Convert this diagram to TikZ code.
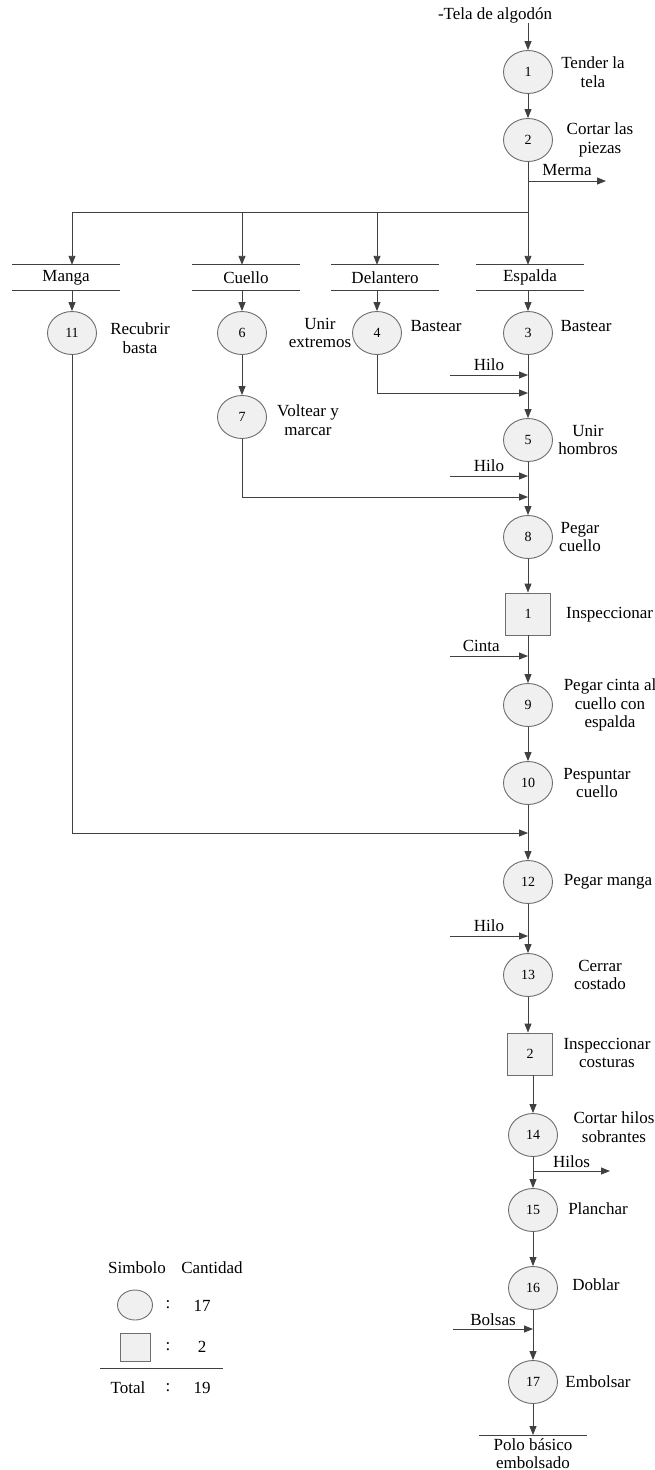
\documentclass[tikz,border=0pt]{standalone}
\usepackage{fontspec}
\setmainfont{Liberation Serif}
\usetikzlibrary{arrows.meta,shapes.geometric}
\definecolor{ln}{HTML}{404040}
\definecolor{bd}{HTML}{6E6E6E}
\definecolor{fl}{HTML}{F0F0F0}
\tikzset{
  proc/.style={ellipse,draw=bd,fill=fl,line width=0.9pt,minimum width=49pt,minimum height=43pt,inner sep=0pt,font=\fontsize{14}{16}\selectfont},
  insp/.style={rectangle,draw=bd,fill=fl,line width=0.9pt,minimum width=45pt,minimum height=42pt,inner sep=0pt,font=\fontsize{14}{16}\selectfont},
  lbl/.style={align=center,inner sep=0pt,font=\fontsize{17}{18.5}\selectfont},
  store/.style={minimum width=107pt,minimum height=25pt,inner sep=0pt,font=\fontsize{17}{18.5}\selectfont},
  arr/.style={draw=ln,line width=0.9pt,-{Triangle[length=9pt,width=7pt]}},
  ln/.style={draw=ln,line width=0.9pt},
}
\begin{document}
\begin{tikzpicture}[x=1pt,y=-1pt]
\useasboundingbox (0,0) rectangle (654,1470);
% top input
\node[lbl] (t) at (495,15) {-Tela de algodón};
% main column
\node[proc] (c1) at (528,72) {1};
\node[proc] (c2) at (528,140) {2};
\node[store] (manga) at (66,277.5) {Manga};
\node[store] (cuello) at (246,277.5) {Cuello};
\node[store] (delantero) at (385,277.5) {Delantero};
\node[store] (espalda) at (530,277.5) {Espalda};
\foreach \s in {manga,cuello,delantero,espalda}{
  \draw[ln] (\s.north west) -- (\s.north east);
  \draw[ln] (\s.south west) -- (\s.south east);
}
\node[proc] (c11) at (72,333) {11};
\node[proc] (c6) at (242,333) {6};
\node[proc] (c4) at (377,333) {4};
\node[proc] (c3) at (528,333) {3};
\node[proc] (c7) at (242,417) {7};
\node[proc] (c5) at (528,440) {5};
\node[proc] (c8) at (528,537) {8};
\node[insp] (i1) at (528,614) {1};
\node[proc] (c9) at (528,705) {9};
\node[proc] (c10) at (528,783) {10};
\node[proc] (c12) at (528,882) {12};
\node[proc] (c13) at (528,975) {13};
\node[insp] (i2) at (530,1054) {2};
\node[proc] (c14) at (533,1135) {14};
\node[proc] (c15) at (533,1210) {15};
\node[proc] (c16) at (533,1288) {16};
\node[proc] (c17) at (533,1382) {17};
\node[store,lbl,anchor=north,minimum width=107pt,inner sep=3pt] (polo) at (533,1435) {Polo básico\\embolsado};
\draw[ln] (polo.north west) -- (polo.north east);
% labels
\node[lbl] (l1) at (593,72) {Tender la\\tela};
\node[lbl] (l2) at (600,140) {Cortar las\\piezas};
\node[lbl] (l11) at (140,338) {Recubrir\\basta};
\node[lbl] (l6) at (320,333) {Unir\\extremos};
\node[lbl] (l4) at (436,326) {Bastear};
\node[lbl] (l3) at (586,326) {Bastear};
\node[lbl] (l7) at (308,420) {Voltear y\\marcar};
\node[lbl] (l5) at (588,440) {Unir\\hombros};
\node[lbl] (l8) at (580,537) {Pegar\\cuello};
\node[lbl,anchor=west] (li1) at (566,615) {Inspeccionar};
\node[lbl] (l9) at (610,705) {Pegar cinta al\\cuello con\\espalda};
\node[lbl] (l10) at (597,783) {Pespuntar\\cuello};
\node[lbl] (l12) at (608,882) {Pegar manga};
\node[lbl] (l13) at (600,975) {Cerrar\\costado};
\node[lbl] (li2) at (607,1053) {Inspeccionar\\costuras};
\node[lbl] (l14) at (614,1127) {Cortar hilos\\sobrantes};
\node[lbl] (l15) at (598,1209) {Planchar};
\node[lbl] (l16) at (596,1285) {Doblar};
\node[lbl] (l17) at (598,1382) {Embolsar};
% connectors
\draw[arr] (c1 |- t.south) -- (c1);
\draw[arr] (c1) -- (c2);
\coordinate (bus) at (528,212);
\draw[ln] (c2) -- (bus);
\draw[ln] (bus) -- (bus -| c11);
\coordinate (merma) at (606,181);
\draw[arr] (c2.south |- merma) -- node[lbl,above=5pt] (lm) {Merma} (merma);
\draw[arr] (bus -| c11) -- (c11 |- manga.north);
\draw[arr] (bus -| c6) -- (c6 |- cuello.north);
\draw[arr] (bus -| c4) -- (c4 |- delantero.north);
\draw[arr] (bus) -- (c3 |- espalda.north);
\draw[arr] (c11 |- manga.south) -- (c11);
\draw[arr] (c6 |- cuello.south) -- (c6);
\draw[arr] (c4 |- delantero.south) -- (c4);
\draw[arr] (c3 |- espalda.south) -- (c3);
\draw[arr] (c6) -- (c7);
\draw[arr] (c3) -- (c5);
\coordinate (h1) at (450,375);
\draw[arr] (h1) -- node[lbl,above=4pt] (lh1) {Hilo} (h1 -| c3);
\coordinate (d) at (528,393);
\draw[arr] (c4) |- (d);
\draw[arr] (c5) -- (c8);
\coordinate (h2) at (450,476);
\draw[arr] (h2) -- node[lbl,above=4pt] (lh2) {Hilo} (h2 -| c5);
\coordinate (v) at (528,497);
\draw[arr] (c7) |- (v);
\draw[arr] (c8) -- (i1);
\draw[arr] (i1) -- (c9);
\coordinate (ci) at (450,656);
\draw[arr] (ci) -- node[lbl,above=4pt,pos=0.4] (lci) {Cinta} (ci -| c9);
\draw[arr] (c9) -- (c10);
\draw[arr] (c10) -- (c12);
\coordinate (m) at (528,833);
\draw[arr] (c11) |- (m);
\draw[arr] (c12) -- (c13);
\coordinate (h3) at (450,936);
\draw[arr] (h3) -- node[lbl,above=4pt] (lh3) {Hilo} (h3 -| c13);
\draw[arr] (c13) -- (c13 |- i2.north);
\draw[arr] (c14 |- i2.south) -- (c14);
\draw[arr] (c14) -- (c15);
\coordinate (hs) at (610,1171);
\draw[arr] (c14.south |- hs) -- node[lbl,above=3pt] (lhs) {Hilos} (hs);
\draw[arr] (c15) -- (c16);
\draw[arr] (c16) -- (c17);
\coordinate (bo) at (453,1329);
\draw[arr] (bo) -- node[lbl,above=3pt] (lbo) {Bolsas} (bo -| c16);
\draw[arr] (c17) -- (polo.north -| c17);
% legend
\node[lbl] (ls) at (137,1268) {Simbolo};
\node[lbl] (lc) at (212,1268) {Cantidad};
\node[ellipse,draw=bd,fill=fl,line width=0.9pt,minimum width=35pt,minimum height=30pt] (le) at (135,1305) {};
\node[lbl] (lk1) at (168,1305) {:};
\node[lbl] (ln1) at (202,1306) {17};
\node[rectangle,draw=bd,fill=fl,line width=0.9pt,minimum width=30pt,minimum height=28pt,inner sep=0pt] (lq) at (135,1347) {};
\node[lbl] (lk2) at (168,1347) {:};
\node[lbl] (ln2) at (202,1347) {2};
\coordinate (tl) at (100,1368);
\coordinate (tr) at (223,1368);
\draw[ln] (tl) -- (tr);
\node[lbl] (lt) at (128,1388) {Total};
\node[lbl] (lk3) at (168,1388) {:};
\node[lbl] (ln3) at (202,1388) {19};
\end{tikzpicture}
\end{document}
